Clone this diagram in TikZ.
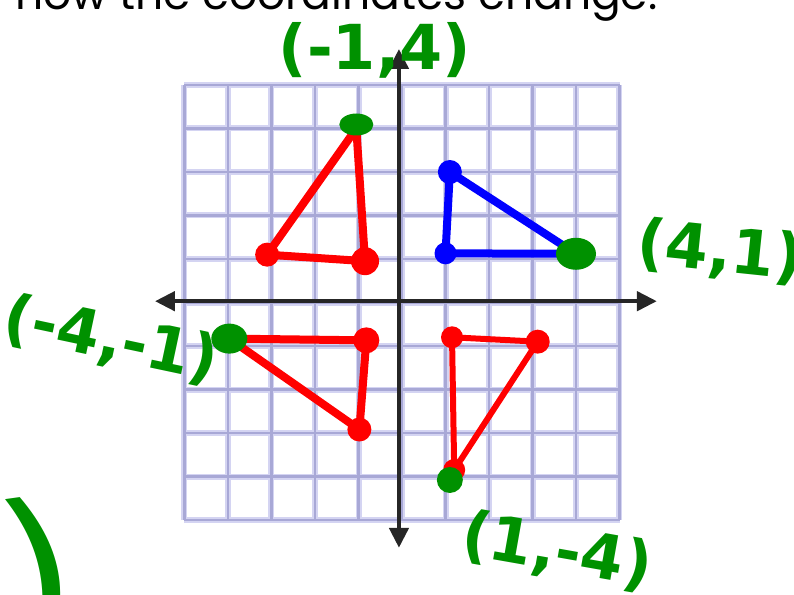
\documentclass[tikz,border=0pt]{standalone}
\usepackage{fontspec}
\usepackage{tikz}
\usetikzlibrary{arrows.meta}
\newfontfamily\handfont{DejaVu Sans}
\newfontfamily\titlefont{Poppins}
\newdimen\unitsize
\setlength{\unitsize}{43.5pt}
\definecolor{gridblue}{RGB}{168,168,214}
\definecolor{gridglow}{RGB}{212,212,242}
\definecolor{penred}{RGB}{255,0,0}
\definecolor{penblue}{RGB}{0,0,255}
\definecolor{pengreen}{RGB}{0,145,0}
\definecolor{axisgray}{RGB}{38,38,38}

\begin{document}
\begin{tikzpicture}[x=\unitsize,y=\unitsize]
\tikzset{glow/.style={gridglow, line width=6pt}}%
\tikzset{gridline/.style={gridblue, line width=2.5pt}}%
\tikzset{axis/.style={axisgray, line width=4.5pt, {Triangle[length=20pt,width=19pt]}-{Triangle[length=20pt,width=19pt]}}}%
\tikzset{redside/.style={penred, line width=8pt, line cap=round, line join=round}}%
\tikzset{blueside/.style={penblue, line width=8pt, line cap=round, line join=round}}%
\tikzset{handlabel/.style={pengreen, inner sep=0pt, font=\handfont\bfseries\fontsize{62}{64}\selectfont}}%
\useasboundingbox (-402pt,-291.5pt) rectangle (392pt,302.5pt);
\node[anchor=base west, inner sep=0pt, font=\titlefont\fontsize{44}{46}\selectfont] (title) at (-387pt,292.5pt) {how the coordinates change.};
\draw[glow, step={(1,1)}] (-5,-5) grid (5,5);
\draw[gridline, step={(1,1)}] (-5,-5) grid (5,5);
\coordinate (xleft) at (-5.68,0.03);
\coordinate (xright) at (5.86,0.03);
\coordinate (ytop) at (-0.07,5.83);
\coordinate (ybottom) at (-0.07,-5.64);
\draw[axis] (xleft) -- (xright);
\draw[axis] (ytop) -- (ybottom);
\coordinate (tl1) at (-1.05,4.0);
\coordinate (tl2) at (-3.1,1.1);
\coordinate (tl3) at (-0.85,0.95);
\draw[redside] (tl1) -- (tl2) -- (tl3) -- cycle;
\fill[penred] (tl2) circle (12pt);
\fill[penred] (tl3) circle (14pt);
\fill[pengreen] ([yshift=4pt]tl1) ellipse (17pt and 11pt);
\coordinate (bl1) at (1.1,3.0);
\coordinate (bl2) at (1.0,1.13);
\coordinate (bl3) at (4.0,1.12);
\draw[blueside] (bl1) -- (bl2) -- (bl3) -- cycle;
\fill[penblue] (bl1) circle (12pt);
\fill[penblue] (bl2) circle (11pt);
\fill[pengreen] (bl3) ellipse (20pt and 16pt);
\coordinate (ll1) at (-3.97,-0.83);
\coordinate (ll2) at (-0.82,-0.87);
\coordinate (ll3) at (-0.98,-2.92);
\draw[redside] (ll1) -- (ll2) -- (ll3) -- cycle;
\fill[penred] (ll2) circle (13pt);
\fill[penred] (ll3) circle (12pt);
\fill[pengreen] (ll1) ellipse (18pt and 15pt);
\coordinate (rr1) at (1.15,-0.8);
\coordinate (rr2) at (3.12,-0.9);
\coordinate (rr3) at (1.2,-3.85);
\draw[redside, line width=6pt] (rr1) -- (rr2) -- (rr3) -- cycle;
\fill[penred] (rr1) circle (11pt);
\fill[penred] (rr2) circle (12pt);
\fill[penred] (rr3) circle (11pt);
\fill[pengreen] (1.1,-4.08) circle (13pt);
\node[handlabel] (lbltl) at (-27pt,252.5pt) {(-1,4)};
\node[handlabel, rotate=-6] (lblbl) at (318pt,50.5pt) {(4,1)};
\node[handlabel, rotate=-12] (lblll) at (-291pt,-37.5pt) {(-4,-1)};
\node[handlabel, rotate=-10] (lblrr) at (155pt,-249pt) {(1,-4)};
\node[handlabel, rotate=8, font=\handfont\fontsize{190}{190}\selectfont] (cutoff) at (-363pt,-277.5pt) {)};
\end{tikzpicture}
\end{document}
